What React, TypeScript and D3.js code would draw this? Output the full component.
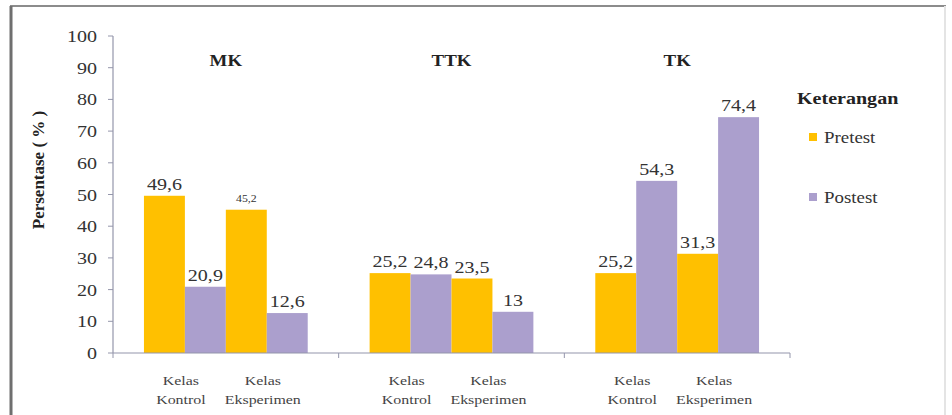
import React from "react";
import * as d3 from "d3";

// chart values
const groups = ["MK", "TTK", "TK"];
const classes = ["Kelas Kontrol", "Kelas Eksperimen"];
const series = ["Pretest", "Postest"];
const pretest = [49.6, 45.2, 25.2, 23.5, 25.2, 31.3];
const postest = [20.9, 12.6, 24.8, 13, 54.3, 74.4];
const yTickValues = [0, 10, 20, 30, 40, 50, 60, 70, 80, 90, 100];

const colours = ["#FFC000", "#AB9FCD"];
const axisColour = "#9496ab";
const serif = "Liberation Serif";
const SX = 1.18; // text in the original is a bit wide

const W = 952;
const H = 415;

function T(props: any) {
  const { x, y, sx = SX, children, ...rest } = props;
  return (
    <text
      transform={`translate(${x},${y}) scale(${sx},1)`}
      style={{ fontFamily: serif }}
      {...rest}
    >
      {children}
    </text>
  );
}

export default function App() {
  const x0 = d3.scaleBand<string>().domain(groups).range([113, 790]).padding(0);
  const x1 = d3
    .scaleBand<string>()
    .domain(classes)
    .range([0, x0.bandwidth()])
    .paddingInner(0)
    .paddingOuter(0.378);
  const x2 = d3.scaleBand<string>().domain(series).range([0, x1.bandwidth()]).padding(0);
  const y = d3.scaleLinear().domain([0, 100]).range([353, 36]);

  const rows = groups.flatMap((g, gi) =>
    classes.map((c, ci) => ({
      group: g,
      cls: c,
      values: [pretest[gi * 2 + ci], postest[gi * 2 + ci]],
    }))
  );

  const fmt = (v: number) => String(v).replace(".", ",");

  return (
    <svg
      width={W}
      height={H}
      style={{ position: "absolute", left: 0, top: 0, background: "#fff" }}
    >
      {/* frame */}
      <rect x={11} y={6} width={934} height={430} fill="none" stroke="#8c8c8c" strokeWidth={2} />
      <line x1={945} x2={945} y1={6} y2={H} stroke="#e4e4e4" strokeWidth={2} />
      <line x1={11} x2={11} y1={6} y2={H} stroke="#6f6f6f" strokeWidth={3} />

      {/* y axis */}
      <line x1={113} x2={113} y1={y(100)} y2={y(0)} stroke={axisColour} strokeWidth={1.2} />
      {yTickValues.map((t) => (
        <g key={t}>
          <line x1={108} x2={113} y1={y(t)} y2={y(t)} stroke={axisColour} />
          <T x={97} y={y(t) + 6} fontSize={17} textAnchor="end" fill="#333">
            {t}
          </T>
        </g>
      ))}
      <text
        transform={`translate(44,${170}) rotate(-90)`}
        style={{ fontFamily: serif }}
        fontWeight="bold"
        fontSize={17}
        textAnchor="middle"
        fill="#222"
      >
        Persentase ( % )
      </text>

      {/* bars */}
      {rows.map((r) =>
        r.values.map((v, si) => {
          const bx = (x0(r.group) ?? 0) + (x1(r.cls) ?? 0) + (x2(series[si]) ?? 0);
          const small = r.group === "MK" && r.cls === "Kelas Eksperimen" && si === 0;
          return (
            <g key={r.group + r.cls + si}>
              <rect
                x={bx}
                y={y(v)}
                width={x2.bandwidth()}
                height={y(0) - y(v)}
                fill={colours[si]}
              />
              <T
                x={bx + x2.bandwidth() / 2}
                y={y(v) - (small ? 8 : 6)}
                fontSize={small ? 10 : 17}
                textAnchor="middle"
                fill="#333"
              >
                {fmt(v)}
              </T>
            </g>
          );
        })
      )}

      {/* x axis */}
      <line x1={113} x2={790} y1={y(0)} y2={y(0)} stroke={axisColour} strokeWidth={1.2} />
      {[...groups.map((g) => x0(g) ?? 0), 790].map((tx, i) => (
        <line key={i} x1={tx} x2={tx} y1={y(0)} y2={y(0) + 5} stroke={axisColour} />
      ))}
      {rows.map((r) => {
        const cx = (x0(r.group) ?? 0) + (x1(r.cls) ?? 0) + x1.bandwidth() / 2 - 4;
        const [a, b] = r.cls.split(" ");
        return (
          <g key={"lab" + r.group + r.cls} fill="#444">
            <T x={cx} y={385} fontSize={13.5} textAnchor="middle">
              {a}
            </T>
            <T x={cx} y={404} fontSize={13.5} textAnchor="middle">
              {b}
            </T>
          </g>
        );
      })}

      {/* group titles */}
      {groups.map((g) => (
        <T
          key={g}
          x={(x0(g) ?? 0) + x0.bandwidth() / 2}
          y={66}
          fontSize={16}
          fontWeight="bold"
          textAnchor="middle"
          fill="#222"
        >
          {g}
        </T>
      ))}

      {/* legend */}
      <T x={797} y={104} fontSize={17} fontWeight="bold" fill="#222">
        Keterangan
      </T>
      {series.map((s, i) => (
        <g key={s}>
          <rect x={809} y={133 + i * 60} width={8} height={8} fill={colours[i]} />
          <T x={824} y={143 + i * 60} fontSize={16} fill="#333">
            {s}
          </T>
        </g>
      ))}
    </svg>
  );
}
